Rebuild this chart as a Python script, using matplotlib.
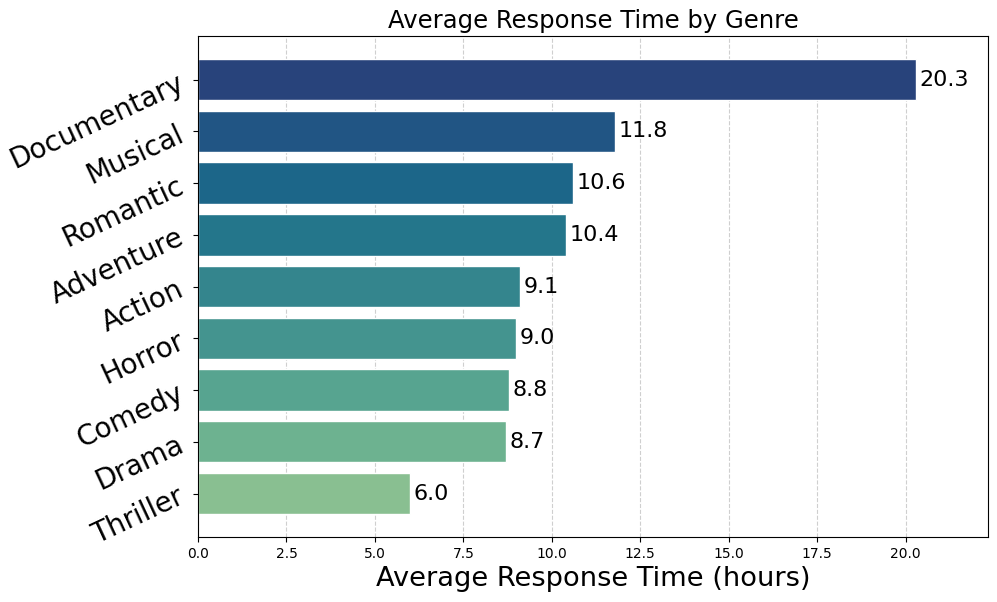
import matplotlib
matplotlib.use("Agg")
import matplotlib.pyplot as plt
import seaborn as sns

genres = ["Documentary", "Musical", "Romantic", "Adventure", "Action", "Horror", "Comedy", "Drama", "Thriller"]
values = [20.3, 11.8, 10.6, 10.4, 9.1, 9.0, 8.8, 8.7, 6.0]

colors = sns.color_palette("crest_r", len(genres))

fig, ax = plt.subplots(figsize=(9.97, 6.02), dpi=100)
bars = ax.barh(genres, values, color=colors, height=0.8, edgecolor="white", linewidth=1)
ax.invert_yaxis()
for b, v in zip(bars, values):
    ax.text(b.get_width() + 0.1, b.get_y() + b.get_height() / 2, f"{v:.1f}",
            va="center", ha="left", fontsize=16)
ax.set_xlim(0, max(values) * 1.1)
ax.set_title("Average Response Time by Genre", fontsize=17.5)
ax.set_xlabel("Average Response Time (hours)", fontsize=19.6)
ax.tick_params(axis="y", labelsize=20)
for lbl in ax.get_yticklabels():
    lbl.set_rotation(25)
ax.tick_params(axis="x", labelsize=10)
ax.grid(axis="x", linestyle="--", alpha=0.6)
ax.set_axisbelow(True)
fig.subplots_adjust(left=0.1986, right=0.991, top=0.94, bottom=0.108)
fig.savefig("out.png", dpi=100)
